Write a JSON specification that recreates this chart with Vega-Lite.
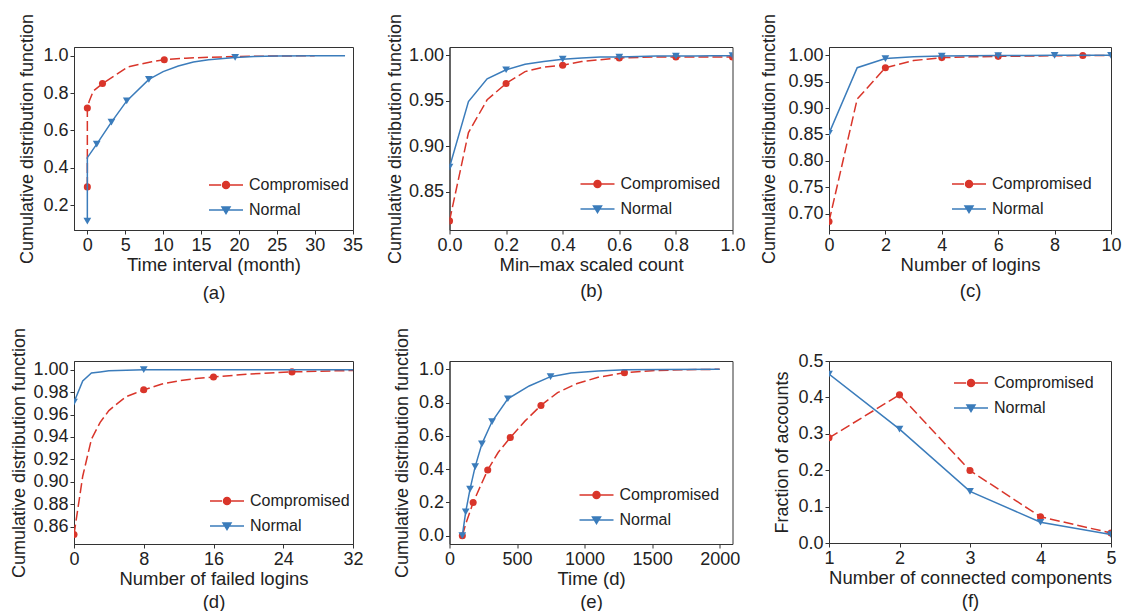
{
"$schema": "https://vega.github.io/schema/vega-lite/v6.json",
"background": "white",
"padding": {"left": 9, "top": 12, "right": 0, "bottom": 0},
"columns": 3,
"spacing": {"row": 131, "column": 96.5},
"bounds": "flush",
"align": "each",
"resolve": {"scale": {"shape": "independent", "fill": "independent", "stroke": "independent"}},
"datasets": {
"aL": [
{"s":"Compromised","x":0,"y":0.297},{"s":"Compromised","x":0,"y":0.72},{"s":"Compromised","x":0.26,"y":0.758},{"s":"Compromised","x":0.8,"y":0.812},{"s":"Compromised","x":2,"y":0.851},{"s":"Compromised","x":3.9,"y":0.902},{"s":"Compromised","x":5.4,"y":0.941},{"s":"Compromised","x":8.5,"y":0.968},{"s":"Compromised","x":10.15,"y":0.979},{"s":"Compromised","x":13,"y":0.987},{"s":"Compromised","x":16,"y":0.992},{"s":"Compromised","x":20,"y":0.996},{"s":"Compromised","x":25,"y":0.999},{"s":"Compromised","x":30,"y":1.0},
{"s":"Normal","x":0,"y":0.114},{"s":"Normal","x":0,"y":0.454},{"s":"Normal","x":1.24,"y":0.526},{"s":"Normal","x":3.18,"y":0.644},{"s":"Normal","x":5.2,"y":0.758},{"s":"Normal","x":8.12,"y":0.873},{"s":"Normal","x":10,"y":0.915},{"s":"Normal","x":12,"y":0.945},{"s":"Normal","x":14,"y":0.967},{"s":"Normal","x":16,"y":0.979},{"s":"Normal","x":19.5,"y":0.991},{"s":"Normal","x":22,"y":0.996},{"s":"Normal","x":25,"y":0.999},{"s":"Normal","x":30,"y":1.0},{"s":"Normal","x":34,"y":1.0}
],
"aM": [
{"s":"Compromised","x":0,"y":0.297},{"s":"Compromised","x":0,"y":0.72},{"s":"Compromised","x":2,"y":0.851},{"s":"Compromised","x":10.15,"y":0.979},
{"s":"Normal","x":0,"y":0.114},{"s":"Normal","x":1.24,"y":0.526},{"s":"Normal","x":3.18,"y":0.644},{"s":"Normal","x":5.2,"y":0.758},{"s":"Normal","x":8.12,"y":0.873},{"s":"Normal","x":19.5,"y":0.991}
],
"bL": [
{"s":"Compromised","x":0,"y":0.818},{"s":"Compromised","x":0.067,"y":0.915},{"s":"Compromised","x":0.133,"y":0.951},{"s":"Compromised","x":0.2,"y":0.969},{"s":"Compromised","x":0.267,"y":0.982},{"s":"Compromised","x":0.333,"y":0.987},{"s":"Compromised","x":0.4,"y":0.989},{"s":"Compromised","x":0.467,"y":0.993},{"s":"Compromised","x":0.533,"y":0.995},{"s":"Compromised","x":0.6,"y":0.997},{"s":"Compromised","x":0.667,"y":0.9975},{"s":"Compromised","x":0.733,"y":0.998},{"s":"Compromised","x":0.8,"y":0.998},{"s":"Compromised","x":0.867,"y":0.998},{"s":"Compromised","x":0.933,"y":0.998},{"s":"Compromised","x":1,"y":0.998},
{"s":"Normal","x":0,"y":0.877},{"s":"Normal","x":0.067,"y":0.949},{"s":"Normal","x":0.133,"y":0.974},{"s":"Normal","x":0.2,"y":0.984},{"s":"Normal","x":0.267,"y":0.99},{"s":"Normal","x":0.333,"y":0.993},{"s":"Normal","x":0.4,"y":0.9956},{"s":"Normal","x":0.467,"y":0.997},{"s":"Normal","x":0.533,"y":0.998},{"s":"Normal","x":0.6,"y":0.998},{"s":"Normal","x":0.667,"y":0.9985},{"s":"Normal","x":0.733,"y":0.999},{"s":"Normal","x":0.8,"y":0.999},{"s":"Normal","x":0.867,"y":0.999},{"s":"Normal","x":0.933,"y":0.9993},{"s":"Normal","x":1,"y":0.9995}
],
"bM": [
{"s":"Compromised","x":0,"y":0.818},{"s":"Compromised","x":0.2,"y":0.969},{"s":"Compromised","x":0.4,"y":0.989},{"s":"Compromised","x":0.6,"y":0.997},{"s":"Compromised","x":0.8,"y":0.998},{"s":"Compromised","x":1,"y":0.998},
{"s":"Normal","x":0,"y":0.877},{"s":"Normal","x":0.2,"y":0.984},{"s":"Normal","x":0.4,"y":0.9956},{"s":"Normal","x":0.6,"y":0.998},{"s":"Normal","x":0.8,"y":0.999},{"s":"Normal","x":1,"y":0.9995}
],
"cL": [
{"s":"Compromised","x":0,"y":0.685},{"s":"Compromised","x":1,"y":0.917},{"s":"Compromised","x":2,"y":0.9765},{"s":"Compromised","x":3,"y":0.99},{"s":"Compromised","x":4,"y":0.9956},{"s":"Compromised","x":5,"y":0.997},{"s":"Compromised","x":6,"y":0.998},{"s":"Compromised","x":7,"y":0.9985},{"s":"Compromised","x":8,"y":0.999},{"s":"Compromised","x":9,"y":0.9995},{"s":"Compromised","x":10,"y":0.9995},
{"s":"Normal","x":0,"y":0.852},{"s":"Normal","x":1,"y":0.9765},{"s":"Normal","x":2,"y":0.9937},{"s":"Normal","x":3,"y":0.997},{"s":"Normal","x":4,"y":0.9985},{"s":"Normal","x":5,"y":0.999},{"s":"Normal","x":6,"y":0.9995},{"s":"Normal","x":7,"y":0.9997},{"s":"Normal","x":8,"y":1.0},{"s":"Normal","x":9,"y":1.0},{"s":"Normal","x":10,"y":1.0}
],
"cM": [
{"s":"Compromised","x":0,"y":0.685},{"s":"Compromised","x":2,"y":0.9765},{"s":"Compromised","x":4,"y":0.9956},{"s":"Compromised","x":6,"y":0.998},{"s":"Compromised","x":9,"y":0.9995},
{"s":"Normal","x":0,"y":0.852},{"s":"Normal","x":2,"y":0.9937},{"s":"Normal","x":4,"y":0.9985},{"s":"Normal","x":6,"y":0.9995},{"s":"Normal","x":8,"y":1.0},{"s":"Normal","x":10,"y":1.0}
],
"dL": [
{"s":"Compromised","x":0,"y":0.853},{"s":"Compromised","x":1,"y":0.905},{"s":"Compromised","x":2,"y":0.938},{"s":"Compromised","x":3,"y":0.953},{"s":"Compromised","x":4,"y":0.9635},{"s":"Compromised","x":5,"y":0.97},{"s":"Compromised","x":6,"y":0.976},{"s":"Compromised","x":7,"y":0.979},{"s":"Compromised","x":8,"y":0.982},{"s":"Compromised","x":10,"y":0.987},{"s":"Compromised","x":12,"y":0.99},{"s":"Compromised","x":14,"y":0.992},{"s":"Compromised","x":16,"y":0.9935},{"s":"Compromised","x":20,"y":0.996},{"s":"Compromised","x":25,"y":0.998},{"s":"Compromised","x":32,"y":0.9993},
{"s":"Normal","x":0,"y":0.971},{"s":"Normal","x":1,"y":0.99},{"s":"Normal","x":2,"y":0.997},{"s":"Normal","x":3,"y":0.998},{"s":"Normal","x":4,"y":0.999},{"s":"Normal","x":6,"y":0.9995},{"s":"Normal","x":8,"y":1.0},{"s":"Normal","x":16,"y":1.0},{"s":"Normal","x":24,"y":1.0},{"s":"Normal","x":32,"y":1.0}
],
"dM": [
{"s":"Compromised","x":0,"y":0.853},{"s":"Compromised","x":8,"y":0.982},{"s":"Compromised","x":16,"y":0.9935},{"s":"Compromised","x":25,"y":0.998},
{"s":"Normal","x":0,"y":0.971},{"s":"Normal","x":8,"y":1.0}
],
"eL": [
{"s":"Compromised","x":95,"y":0},{"s":"Compromised","x":120,"y":0.07},{"s":"Compromised","x":150,"y":0.14},{"s":"Compromised","x":175,"y":0.199},{"s":"Compromised","x":230,"y":0.3},{"s":"Compromised","x":283,"y":0.395},{"s":"Compromised","x":360,"y":0.5},{"s":"Compromised","x":450,"y":0.59},{"s":"Compromised","x":560,"y":0.69},{"s":"Compromised","x":677,"y":0.783},{"s":"Compromised","x":800,"y":0.86},{"s":"Compromised","x":945,"y":0.915},{"s":"Compromised","x":1100,"y":0.952},{"s":"Compromised","x":1295,"y":0.98},{"s":"Compromised","x":1500,"y":0.992},{"s":"Compromised","x":1750,"y":0.998},{"s":"Compromised","x":2000,"y":1.0},
{"s":"Normal","x":95,"y":0},{"s":"Normal","x":120,"y":0.143},{"s":"Normal","x":152,"y":0.28},{"s":"Normal","x":190,"y":0.415},{"s":"Normal","x":240,"y":0.552},{"s":"Normal","x":315,"y":0.686},{"s":"Normal","x":432,"y":0.823},{"s":"Normal","x":590,"y":0.9},{"s":"Normal","x":748,"y":0.956},{"s":"Normal","x":900,"y":0.978},{"s":"Normal","x":1100,"y":0.99},{"s":"Normal","x":1300,"y":0.997},{"s":"Normal","x":1600,"y":0.999},{"s":"Normal","x":2000,"y":1.0}
],
"eM": [
{"s":"Compromised","x":95,"y":0},{"s":"Compromised","x":175,"y":0.199},{"s":"Compromised","x":283,"y":0.395},{"s":"Compromised","x":450,"y":0.59},{"s":"Compromised","x":677,"y":0.783},{"s":"Compromised","x":1295,"y":0.98},
{"s":"Normal","x":95,"y":0},{"s":"Normal","x":120,"y":0.143},{"s":"Normal","x":152,"y":0.28},{"s":"Normal","x":190,"y":0.415},{"s":"Normal","x":240,"y":0.552},{"s":"Normal","x":315,"y":0.686},{"s":"Normal","x":432,"y":0.823},{"s":"Normal","x":748,"y":0.956}
],
"fL": [
{"s":"Compromised","x":1,"y":0.289},{"s":"Compromised","x":2,"y":0.407},{"s":"Compromised","x":3,"y":0.199},{"s":"Compromised","x":4,"y":0.072},{"s":"Compromised","x":5,"y":0.0275},
{"s":"Normal","x":1,"y":0.464},{"s":"Normal","x":2,"y":0.313},{"s":"Normal","x":3,"y":0.142},{"s":"Normal","x":4,"y":0.057},{"s":"Normal","x":5,"y":0.023}
]
},
"concat": [
{"width": 279, "height": 183,
 "encoding": {
  "x": {"field": "x", "type": "quantitative", "scale": {"domain": [-1.76, 35.05], "nice": false, "zero": false}, "axis": {"values": [0,5,10,15,20,25,30,35], "format": "d", "title": ["Time interval (month)", "(a)"], "titleLineHeight": 28}},
  "y": {"field": "y", "type": "quantitative", "scale": {"domain": [0.066, 1.047], "nice": false, "zero": false}, "axis": {"values": [0.2,0.4,0.6,0.8,1.0], "format": ".1f", "title": "Cumulative distribution function", "minExtent": 34, "maxExtent": 34}}
 },
 "layer": [
 {"data": {"name": "aL"}, "transform": [{"filter": "datum.s === 'Compromised'"}], "mark": {"type": "line", "strokeWidth": 1.5, "color": "#d9352a", "strokeDash": [10, 4], "clip": true}},
 {"data": {"name": "aM"}, "transform": [{"filter": "datum.s === 'Compromised'"}], "mark": {"type": "point", "shape": "circle", "filled": true, "opacity": 1, "size": 50, "color": "#d9352a", "clip": true}},
 {"data": {"name": "aL"}, "transform": [{"filter": "datum.s === 'Normal'"}], "mark": {"type": "line", "strokeWidth": 1.5, "color": "#3b7cbb", "clip": true}},
 {"data": {"name": "aM"}, "transform": [{"filter": "datum.s === 'Normal'"}], "mark": {"type": "point", "shape": "triangle-down", "filled": true, "opacity": 1, "size": 60, "color": "#3b7cbb", "clip": true}},
 {"data": {"name": "aM"}, "transform": [{"filter": "false"}], "mark": {"type": "point", "filled": true, "opacity": 1, "strokeWidth": 1.5},
  "encoding": {
   "fill": {"field": "s", "type": "nominal", "scale": {"domain": ["Compromised","Normal"], "range": ["#d9352a","#3b7cbb"]}},
   "stroke": {"field": "s", "type": "nominal", "scale": {"domain": ["Compromised","Normal"], "range": ["#d9352a","#3b7cbb"]}},
   "shape": {"field": "s", "type": "nominal", "scale": {"domain": ["Compromised","Normal"], "range": ["M-1,0H0.2M0.5,0H2.4M1.05,0A0.35,0.35 0 1,1 0.35,0A0.35,0.35 0 1,1 1.05,0Z", "M-1,0H2.4M0.3,-0.3L1.1,-0.3L0.7,0.36Z"]},
    "legend": {"orient": "none", "legendX": 134, "legendY": 127, "title": null}}
  }}
]},
{"width": 283, "height": 183,
 "encoding": {
  "x": {"field": "x", "type": "quantitative", "scale": {"domain": [0, 1], "nice": false, "zero": false}, "axis": {"values": [0,0.2,0.4,0.6,0.8,1.0], "format": ".1f", "title": ["Min\u2013max scaled count", "(b)"], "titleLineHeight": 26}},
  "y": {"field": "y", "type": "quantitative", "scale": {"domain": [0.808, 1.009], "nice": false, "zero": false}, "axis": {"values": [0.85,0.90,0.95,1.00], "format": ".2f", "title": "Cumulative distribution function", "minExtent": 41, "maxExtent": 41}}
 },
 "layer": [
 {"data": {"name": "bL"}, "transform": [{"filter": "datum.s === 'Compromised'"}], "mark": {"type": "line", "strokeWidth": 1.5, "color": "#d9352a", "strokeDash": [10, 4], "clip": true}},
 {"data": {"name": "bM"}, "transform": [{"filter": "datum.s === 'Compromised'"}], "mark": {"type": "point", "shape": "circle", "filled": true, "opacity": 1, "size": 50, "color": "#d9352a", "clip": true}},
 {"data": {"name": "bL"}, "transform": [{"filter": "datum.s === 'Normal'"}], "mark": {"type": "line", "strokeWidth": 1.5, "color": "#3b7cbb", "clip": true}},
 {"data": {"name": "bM"}, "transform": [{"filter": "datum.s === 'Normal'"}], "mark": {"type": "point", "shape": "triangle-down", "filled": true, "opacity": 1, "size": 60, "color": "#3b7cbb", "clip": true}},
 {"data": {"name": "bM"}, "transform": [{"filter": "false"}], "mark": {"type": "point", "filled": true, "opacity": 1, "strokeWidth": 1.5},
  "encoding": {
   "fill": {"field": "s", "type": "nominal", "scale": {"domain": ["Compromised","Normal"], "range": ["#d9352a","#3b7cbb"]}},
   "stroke": {"field": "s", "type": "nominal", "scale": {"domain": ["Compromised","Normal"], "range": ["#d9352a","#3b7cbb"]}},
   "shape": {"field": "s", "type": "nominal", "scale": {"domain": ["Compromised","Normal"], "range": ["M-1,0H2.4M1.05,0A0.35,0.35 0 1,1 0.35,0A0.35,0.35 0 1,1 1.05,0Z", "M-1,0H2.4M0.3,-0.3L1.1,-0.3L0.7,0.36Z"]},
    "legend": {"orient": "none", "legendX": 130, "legendY": 126, "title": null}}
  }}
]},
{"width": 282, "height": 183,
 "encoding": {
  "x": {"field": "x", "type": "quantitative", "scale": {"domain": [0, 10], "nice": false, "zero": false}, "axis": {"values": [0,2,4,6,8,10], "format": "d", "title": ["Number of logins", "(c)"], "titleLineHeight": 26}},
  "y": {"field": "y", "type": "quantitative", "scale": {"domain": [0.669, 1.0157], "nice": false, "zero": false}, "axis": {"values": [0.70,0.75,0.80,0.85,0.90,0.95,1.00], "format": ".2f", "title": "Cumulative distribution function", "minExtent": 47, "maxExtent": 47}}
 },
 "layer": [
 {"data": {"name": "cL"}, "transform": [{"filter": "datum.s === 'Compromised'"}], "mark": {"type": "line", "strokeWidth": 1.5, "color": "#d9352a", "strokeDash": [10, 4], "clip": true}},
 {"data": {"name": "cM"}, "transform": [{"filter": "datum.s === 'Compromised'"}], "mark": {"type": "point", "shape": "circle", "filled": true, "opacity": 1, "size": 50, "color": "#d9352a", "clip": true}},
 {"data": {"name": "cL"}, "transform": [{"filter": "datum.s === 'Normal'"}], "mark": {"type": "line", "strokeWidth": 1.5, "color": "#3b7cbb", "clip": true}},
 {"data": {"name": "cM"}, "transform": [{"filter": "datum.s === 'Normal'"}], "mark": {"type": "point", "shape": "triangle-down", "filled": true, "opacity": 1, "size": 60, "color": "#3b7cbb", "clip": true}},
 {"data": {"name": "cM"}, "transform": [{"filter": "false"}], "mark": {"type": "point", "filled": true, "opacity": 1, "strokeWidth": 1.5},
  "encoding": {
   "fill": {"field": "s", "type": "nominal", "scale": {"domain": ["Compromised","Normal"], "range": ["#d9352a","#3b7cbb"]}},
   "stroke": {"field": "s", "type": "nominal", "scale": {"domain": ["Compromised","Normal"], "range": ["#d9352a","#3b7cbb"]}},
   "shape": {"field": "s", "type": "nominal", "scale": {"domain": ["Compromised","Normal"], "range": ["M-1,0H0.2M0.5,0H2.4M1.05,0A0.35,0.35 0 1,1 0.35,0A0.35,0.35 0 1,1 1.05,0Z", "M-1,0H2.4M0.3,-0.3L1.1,-0.3L0.7,0.36Z"]},
    "legend": {"orient": "none", "legendX": 122, "legendY": 126, "title": null}}
  }}
]},
{"width": 279, "height": 183,
 "encoding": {
  "x": {"field": "x", "type": "quantitative", "scale": {"domain": [0, 32], "nice": false, "zero": false}, "axis": {"values": [0,8,16,24,32], "format": "d", "title": ["Number of failed logins", "(d)"], "titleLineHeight": 23}},
  "y": {"field": "y", "type": "quantitative", "scale": {"domain": [0.8446, 1.0077], "nice": false, "zero": false}, "axis": {"values": [0.86,0.88,0.90,0.92,0.94,0.96,0.98,1.00], "format": ".2f", "title": "Cumulative distribution function", "minExtent": 42, "maxExtent": 42}}
 },
 "layer": [
 {"data": {"name": "dL"}, "transform": [{"filter": "datum.s === 'Compromised'"}], "mark": {"type": "line", "strokeWidth": 1.5, "color": "#d9352a", "strokeDash": [10, 4], "clip": true}},
 {"data": {"name": "dM"}, "transform": [{"filter": "datum.s === 'Compromised'"}], "mark": {"type": "point", "shape": "circle", "filled": true, "opacity": 1, "size": 50, "color": "#d9352a", "clip": true}},
 {"data": {"name": "dL"}, "transform": [{"filter": "datum.s === 'Normal'"}], "mark": {"type": "line", "strokeWidth": 1.5, "color": "#3b7cbb", "clip": true}},
 {"data": {"name": "dM"}, "transform": [{"filter": "datum.s === 'Normal'"}], "mark": {"type": "point", "shape": "triangle-down", "filled": true, "opacity": 1, "size": 60, "color": "#3b7cbb", "clip": true}},
 {"data": {"name": "dM"}, "transform": [{"filter": "false"}], "mark": {"type": "point", "filled": true, "opacity": 1, "strokeWidth": 1.5},
  "encoding": {
   "fill": {"field": "s", "type": "nominal", "scale": {"domain": ["Compromised","Normal"], "range": ["#d9352a","#3b7cbb"]}},
   "stroke": {"field": "s", "type": "nominal", "scale": {"domain": ["Compromised","Normal"], "range": ["#d9352a","#3b7cbb"]}},
   "shape": {"field": "s", "type": "nominal", "scale": {"domain": ["Compromised","Normal"], "range": ["M-1,0H0.2M0.5,0H2.4M1.05,0A0.35,0.35 0 1,1 0.35,0A0.35,0.35 0 1,1 1.05,0Z", "M-1,0H2.4M0.3,-0.3L1.1,-0.3L0.7,0.36Z"]},
    "legend": {"orient": "none", "legendX": 135, "legendY": 129, "title": null}}
  }}
]},
{"width": 283, "height": 183,
 "encoding": {
  "x": {"field": "x", "type": "quantitative", "scale": {"domain": [0, 2095], "nice": false, "zero": false}, "axis": {"values": [0,500,1000,1500,2000], "format": "d", "title": ["Time (d)", "(e)"], "titleLineHeight": 23}},
  "y": {"field": "y", "type": "quantitative", "scale": {"domain": [-0.05, 1.05], "nice": false, "zero": false}, "axis": {"values": [0,0.2,0.4,0.6,0.8,1.0], "format": ".1f", "title": "Cumulative distribution function", "minExtent": 34, "maxExtent": 34}}
 },
 "layer": [
 {"data": {"name": "eL"}, "transform": [{"filter": "datum.s === 'Compromised'"}], "mark": {"type": "line", "strokeWidth": 1.5, "color": "#d9352a", "strokeDash": [10, 4], "clip": true}},
 {"data": {"name": "eM"}, "transform": [{"filter": "datum.s === 'Compromised'"}], "mark": {"type": "point", "shape": "circle", "filled": true, "opacity": 1, "size": 50, "color": "#d9352a", "clip": true}},
 {"data": {"name": "eL"}, "transform": [{"filter": "datum.s === 'Normal'"}], "mark": {"type": "line", "strokeWidth": 1.5, "color": "#3b7cbb", "clip": true}},
 {"data": {"name": "eM"}, "transform": [{"filter": "datum.s === 'Normal'"}], "mark": {"type": "point", "shape": "triangle-down", "filled": true, "opacity": 1, "size": 60, "color": "#3b7cbb", "clip": true}},
 {"data": {"name": "eM"}, "transform": [{"filter": "false"}], "mark": {"type": "point", "filled": true, "opacity": 1, "strokeWidth": 1.5},
  "encoding": {
   "fill": {"field": "s", "type": "nominal", "scale": {"domain": ["Compromised","Normal"], "range": ["#d9352a","#3b7cbb"]}},
   "stroke": {"field": "s", "type": "nominal", "scale": {"domain": ["Compromised","Normal"], "range": ["#d9352a","#3b7cbb"]}},
   "shape": {"field": "s", "type": "nominal", "scale": {"domain": ["Compromised","Normal"], "range": ["M-1,0H2.4M1.05,0A0.35,0.35 0 1,1 0.35,0A0.35,0.35 0 1,1 1.05,0Z", "M-1,0H2.4M0.3,-0.3L1.1,-0.3L0.7,0.36Z"]},
    "legend": {"orient": "none", "legendX": 129, "legendY": 123, "title": null}}
  }}
]},
{"width": 282, "height": 182,
 "encoding": {
  "x": {"field": "x", "type": "quantitative", "scale": {"domain": [1, 5], "nice": false, "zero": false}, "axis": {"values": [1,2,3,4,5], "format": "d", "title": ["Number of connected components", "(f)"], "titleLineHeight": 23}},
  "y": {"field": "y", "type": "quantitative", "scale": {"domain": [0, 0.5], "nice": false, "zero": false}, "axis": {"values": [0,0.1,0.2,0.3,0.4,0.5], "format": ".1f", "title": "Fraction of accounts", "minExtent": 34, "maxExtent": 34}}
 },
 "layer": [
 {"data": {"name": "fL"}, "transform": [{"filter": "datum.s === 'Compromised'"}], "mark": {"type": "line", "strokeWidth": 1.5, "color": "#d9352a", "strokeDash": [10, 4], "clip": true}},
 {"data": {"name": "fL"}, "transform": [{"filter": "datum.s === 'Compromised'"}], "mark": {"type": "point", "shape": "circle", "filled": true, "opacity": 1, "size": 50, "color": "#d9352a", "clip": true}},
 {"data": {"name": "fL"}, "transform": [{"filter": "datum.s === 'Normal'"}], "mark": {"type": "line", "strokeWidth": 1.5, "color": "#3b7cbb", "clip": true}},
 {"data": {"name": "fL"}, "transform": [{"filter": "datum.s === 'Normal'"}], "mark": {"type": "point", "shape": "triangle-down", "filled": true, "opacity": 1, "size": 60, "color": "#3b7cbb", "clip": true}},
 {"data": {"name": "fL"}, "transform": [{"filter": "false"}], "mark": {"type": "point", "filled": true, "opacity": 1, "strokeWidth": 1.5},
  "encoding": {
   "fill": {"field": "s", "type": "nominal", "scale": {"domain": ["Compromised","Normal"], "range": ["#d9352a","#3b7cbb"]}},
   "stroke": {"field": "s", "type": "nominal", "scale": {"domain": ["Compromised","Normal"], "range": ["#d9352a","#3b7cbb"]}},
   "shape": {"field": "s", "type": "nominal", "scale": {"domain": ["Compromised","Normal"], "range": ["M-1,0H0.2M0.5,0H2.4M1.05,0A0.35,0.35 0 1,1 0.35,0A0.35,0.35 0 1,1 1.05,0Z", "M-1,0H2.4M0.3,-0.3L1.1,-0.3L0.7,0.36Z"]},
    "legend": {"orient": "none", "legendX": 124, "legendY": 11, "title": null}}
  }}
]}
],
"config": {
 "font": "Liberation Sans",
 "view": {"stroke": "#333", "strokeWidth": 1},
 "axis": {"labelFont": "Liberation Sans", "labelFontSize": 18, "labelColor": "#222", "titleFont": "Liberation Sans", "titleFontSize": 18.5, "titleFontWeight": "normal", "titleColor": "#222", "tickColor": "#333", "domainColor": "#333", "tickSize": 4, "labelPadding": 2, "grid": false, "labelFlush": false, "labelOverlap": false},
 "axisX": {"titlePadding": 1, "labelPadding": 2},
 "axisY": {"titlePadding": 4, "titleFontSize": 18},
 "legend": {"labelFont": "Liberation Sans", "labelFontSize": 16, "labelColor": "#222", "symbolSize": 400, "labelOffset": 19, "rowPadding": 6, "padding": 0, "symbolStrokeWidth": 1.5, "symbolOpacity": 1}
}
}
